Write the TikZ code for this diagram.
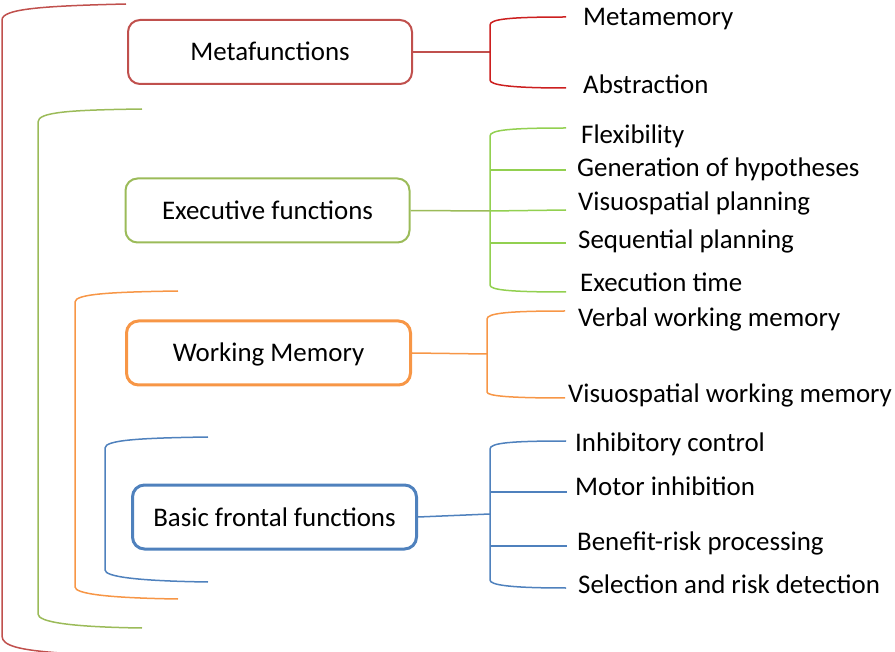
\documentclass[tikz,border=0pt]{standalone}
\usepackage{fontspec}
\setmainfont{Carlito}
\usetikzlibrary{positioning}
\definecolor{metared}{HTML}{C0504D}
\definecolor{brkred}{HTML}{CC1F1F}
\definecolor{execgreen}{HTML}{9BBB59}
\definecolor{brkgreen}{HTML}{92D050}
\definecolor{wmorange}{HTML}{F79646}
\definecolor{basicblue}{HTML}{4F81BD}
\tikzset{
  funcbox/.style = {draw=#1, rounded corners=12pt,
                    minimum width=284pt, minimum height=64pt, inner sep=0pt,
                    text height=18pt, text depth=0pt,
                    font=\fontsize{26.9}{30}\selectfont},
  item/.style = {anchor=base west, inner sep=0pt,
                 font=\fontsize{26.9}{30}\selectfont},
  brace/.style = {draw=#1, line width=1.5pt}
}

\begin{document}
\begin{tikzpicture}[x=1pt, y=-1pt]
	\useasboundingbox (0,0) rectangle (895,652);

	% Boxes
	\node[funcbox=metared, line width=2pt] (meta) at (270,52) {Metafunctions};
	\node[funcbox=execgreen, line width=2pt] (exec) at (267.5,210.5) {Executive functions};
	\node[funcbox=wmorange, line width=3pt] (wm) at (268.5,353) {Working Memory};
	\node[funcbox=basicblue, line width=3pt] (basic) at (274.5,517) {Basic frontal functions};

	% Left brackets
	\draw[brace=metared]   (126,4) .. controls (40,6) and (2,9) .. (2,20) -- (2,636) .. controls (2,646) and (20,650) .. (60,653);
	\draw[brace=execgreen] (142,109) .. controls (70,110) and (38,112) .. (38,122) -- (38,614) .. controls (38,622) and (70,627) .. (142,628);
	\draw[brace=wmorange]  (178,291) .. controls (110,292) and (75,294) .. (75,302) -- (75,587) .. controls (75,594) and (110,598) .. (178,599);
	\draw[brace=basicblue] (208,437) .. controls (140,438) and (105,440) .. (105,448) -- (105,570) .. controls (105,577) and (140,581) .. (208,582);

	% Junctions
	\coordinate (metaj) at (490,52);
	\coordinate (execj) at (490,211);
	\coordinate (wmj) at (487,354);
	\coordinate (basicj) at (490,514);

	% Metafunctions
	\draw[metared, line width=1.5pt] (meta.east) -- (metaj);
	\draw[brace=brkred] (566,17) .. controls (510,17) and (490,19) .. (490,25) -- (490,80) .. controls (490,85) and (510,88) .. (566,88);
	\node[item] (metamem) at (583,26) {Metamemory};
	\node[item] (abstr) at (583,94) {Abstraction};

	% Executive functions
	\draw[execgreen, line width=1.5pt] (exec.east) -- (execj);
	\draw[brace=brkgreen] (566,128) .. controls (510,128) and (490,130) .. (490,136) -- (490,285) .. controls (490,290) and (510,292) .. (566,292);
	\coordinate (hypoj) at (490,170);
	\coordinate (seqj) at (490,243);
	\coordinate (hypoe) at (566,170);
	\coordinate (vse) at (566,210);
	\coordinate (seqe) at (566,243);
	\draw[brace=brkgreen] (hypoj) -- (hypoe);
	\draw[brace=brkgreen] (execj) -- (vse);
	\draw[brace=brkgreen] (seqj) -- (seqe);
	\node[item] (flex) at (581,144) {Flexibility};
	\node[item] (hypo) at (577,177) {Generation of hypotheses};
	\node[item] (vsplan) at (578,211) {Visuospatial planning};
	\node[item] (seqplan) at (578,249) {Sequential planning};
	\node[item] (extime) at (580,292) {Execution time};

	% Working memory
	\draw[wmorange, line width=1.5pt] (wm.east) -- (wmj);
	\draw[brace=wmorange] (565,311) .. controls (510,311) and (487,313) .. (487,319) -- (487,392) .. controls (487,396) and (510,398) .. (565,398);
	\node[item] (verbwm) at (578,327) {Verbal working memory};
	\node[item] (vswm) at (568,403) {Visuospatial working memory};

	% Basic frontal functions
	\draw[basicblue, line width=1.5pt] (basic.east) -- (basicj);
	\draw[brace=basicblue] (566,441) .. controls (510,441) and (490,443) .. (490,449) -- (490,580) .. controls (490,585) and (510,588) .. (566,588);
	\coordinate (motorj) at (490,492);
	\coordinate (benefj) at (490,546);
	\coordinate (motore) at (567,492);
	\coordinate (benefe) at (567,546);
	\draw[brace=basicblue] (motorj) -- (motore);
	\draw[brace=basicblue] (benefj) -- (benefe);
	\node[item] (inhib) at (575,452) {Inhibitory control};
	\node[item] (motor) at (575,496) {Motor inhibition};
	\node[item] (benef) at (577,550) {Benefit-risk processing};
	\node[item] (select) at (578,593) {Selection and risk detection};
\end{tikzpicture}
\end{document}
